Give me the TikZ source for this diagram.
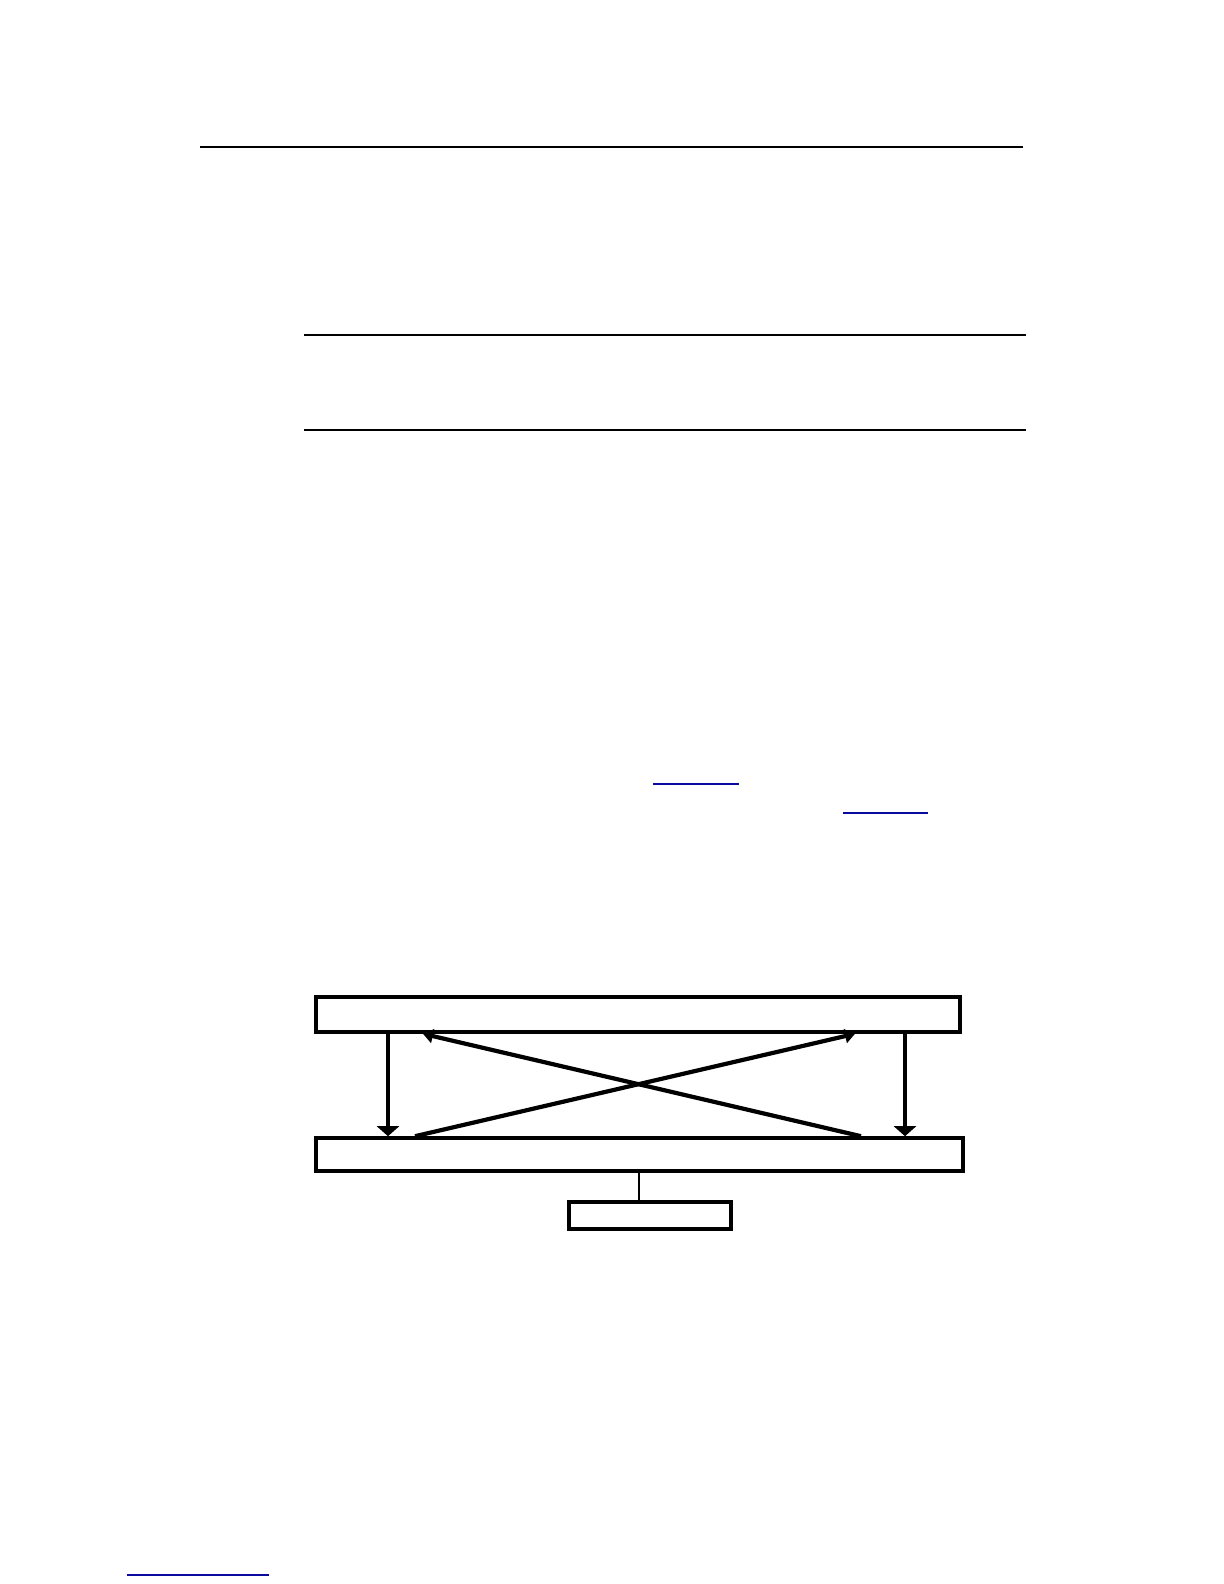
\documentclass[tikz,border=0pt]{standalone}
\usetikzlibrary{arrows.meta}
\definecolor{linkblue}{RGB}{10,10,160}
\begin{document}
\begin{tikzpicture}[x=0.5pt,y=-0.5pt,
  box/.style={draw,line width=1.8pt,inner sep=0pt,rectangle},
  downarr/.style={line width=1.7pt,-{Triangle[width=11pt,length=5pt]}},
  crossarr/.style={line width=2.1pt,-{Triangle[width=7pt,length=5pt]}},
  rule/.style={line width=1pt},
  link/.style={linkblue,line width=0.8pt}]
\useasboundingbox (0,0) rectangle (1224,1584);
% text rules
\draw[rule] (200,146.5) -- (1023,146.5);
\draw[rule] (304,334.5) -- (1026,334.5);
\draw[rule] (304,430) -- (1026,430);
% link underlines
\draw[link] (653,784) -- (739,784);
\draw[link] (843,813) -- (928,813);
\draw[link] (127,1575) -- (269,1575);
% diagram
\node[box,minimum width=322pt,minimum height=17.5pt] (top) at (638,1014.5) {};
\node[box,minimum width=323.5pt,minimum height=16.5pt] (bot) at (639.5,1154.5) {};
\node[box,minimum width=81pt,minimum height=13.5pt] (small) at (650,1215.5) {};
\coordinate (xa) at (388,0);
\coordinate (xb) at (905,0);
\coordinate (xc) at (415,0);
\coordinate (xd) at (855,0);
\coordinate (xe) at (861,0);
\coordinate (xf) at (423,0);
\coordinate (xg) at (639,0);
\draw[downarr] (top.south -| xa) -- (bot.north -| xa);
\draw[downarr] (top.south -| xb) -- (bot.north -| xb);
\draw[crossarr] (bot.north -| xc) -- (top.south -| xd);
\draw[crossarr] (bot.north -| xe) -- (top.south -| xf);
\draw[line width=1pt] (bot.south -| xg) -- (small.north -| xg);
\end{tikzpicture}
\end{document}
